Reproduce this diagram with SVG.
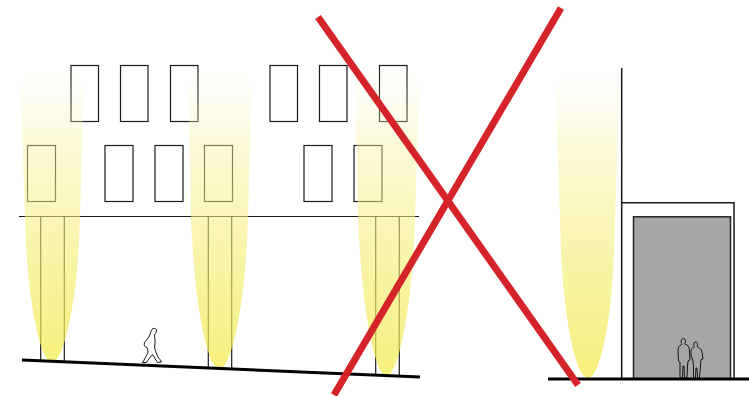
<svg xmlns="http://www.w3.org/2000/svg" width="749" height="396" viewBox="0 0 749 396">
  <defs>
    <linearGradient id="beamGrad" x1="0" y1="0" x2="0" y2="1">
      <stop offset="0" stop-color="#fffbe0" stop-opacity="0"/>
      <stop offset="0.25" stop-color="#f8f2a8" stop-opacity="0.45"/>
      <stop offset="0.6" stop-color="#f5ee78" stop-opacity="0.62"/>
      <stop offset="1" stop-color="#f3eb50" stop-opacity="0.75"/>
    </linearGradient>
  </defs>
  <style>
    .wall { fill: none; stroke: #1a1a1a; stroke-width: 1.2; }
    .ground { fill: none; stroke: #000; stroke-width: 3; stroke-linecap: butt; }
    .beam { fill: url(#beamGrad); stroke: none; }
    .cross { stroke: #d4242a; stroke-width: 7; stroke-linecap: butt; }
    .figure { fill: #fff; stroke: #111; stroke-width: 1; stroke-linejoin: round; }
    .figure-gray { fill: #a6a6a6; stroke: #111; stroke-width: 1; stroke-linejoin: round; }
  </style>

  <rect width="749" height="396" fill="#fff"/>

  <!-- Facade with windows and pillars -->
  <g id="facade">
    <rect class="wall" x="71" y="65.5" width="27.5" height="56"/>
    <rect class="wall" x="120.5" y="65.5" width="27.5" height="56"/>
    <rect class="wall" x="170.5" y="65.5" width="27.5" height="56"/>
    <rect class="wall" x="270" y="65.5" width="27.5" height="56"/>
    <rect class="wall" x="319.5" y="65.5" width="27.5" height="56"/>
    <rect class="wall" x="379.5" y="65.5" width="27.5" height="56"/>

    <rect class="wall" x="27.5" y="145.5" width="28" height="56"/>
    <rect class="wall" x="105" y="145.5" width="28" height="56"/>
    <rect class="wall" x="155" y="145.5" width="28" height="56"/>
    <rect class="wall" x="204.5" y="145.5" width="28" height="56"/>
    <rect class="wall" x="304" y="145.5" width="28" height="56"/>
    <rect class="wall" x="354" y="145.5" width="28" height="56"/>

    <line class="wall" x1="19" y1="216.5" x2="419" y2="216.5"/>

    <polyline class="wall" points="40.7,361 40.7,216.5 64.3,216.5 64.3,362"/>
    <polyline class="wall" points="208.3,368 208.3,216.5 231.7,216.5 231.7,369"/>
    <polyline class="wall" points="375.7,375 375.7,216.5 399.3,216.5 399.3,376"/>
  </g>

  <!-- Uplight beams -->
  <g id="beams">
    <path class="beam" d="M20,65 L84,65 L80,217 C78,300 64,362 52,362 C40,362 27,300 25,217 Z"/>
    <path class="beam" d="M188,65 L252,65 L248,217 C246,300 232,369 219.5,369 C207,369 194,300 191,217 Z"/>
    <path class="beam" d="M355,65 L420,65 L415,217 C413,300 399,376 386.7,376 C374,376 361,300 358,217 Z"/>
    <path class="beam" d="M555,68 L620,68 L614,250 C612,320 600,378 588,378 C576,378 564,320 561,250 Z"/>
  </g>

  <!-- Street level -->
  <g id="street">
    <line class="ground" x1="22" y1="360" x2="420" y2="377"/>
  </g>

  <!-- Walking pedestrian -->
  <g id="walker">
    <path class="figure" d="M153,328.5 C155,328 157,329 156.5,331 C156,333 154.5,334 154.5,336 C155,339 155.5,343 154.5,347 C155,350 156,353 158,357 C159.5,359 161,360.5 161.5,362 L157.5,362.5 C156,360 154,357 152.5,354.5 C150.5,357 148,360 146.5,362.5 L142.5,362.5 C144,360 146.5,356 148,352.5 C148,350.5 147.5,349 147,347.5 C145,347 143.5,345 144.5,342.5 C146,340 148,338.5 149.5,336 C150.5,333 151,329.5 153,328.5 Z"/>
  </g>

  <!-- Right building with recessed entrance -->
  <g id="entrance">
    <line class="wall" x1="621.7" y1="68" x2="621.7" y2="379" style="stroke-width:1.5"/>
    <polyline class="wall" points="621.7,202.8 734,202.8 734,379" style="stroke-width:1.5"/>
    <rect x="633.5" y="216.8" width="97" height="162" fill="#a6a6a6" stroke="#222" stroke-width="1.5"/>
    <line class="ground" x1="548" y1="379" x2="749" y2="379"/>
  </g>

  <!-- Two people in the doorway -->
  <g id="couple">
    <path class="figure-gray" d="M683.3,338.5 C685.5,338.5 685.8,341 685,343 C684.5,344 685,344.5 687,345 C689,346 689.5,349 689.5,352 L690,360 L688,361 L687.5,366 L687,377.5 L684.5,377.5 L684,366 L683,366 L682.5,377.5 L680,377.5 L680,362 L678.5,361 L678,351 C678,347.5 679,345.5 681.5,344.5 C682,344 681.5,343.5 681.3,342.5 C681,340 681.5,338.5 683.3,338.5 Z"/>
    <path class="figure-gray" d="M695.7,342 C697.5,342 698,344 697.3,346 C697,347 698,347.5 699.5,348 C701.5,349 702,352 702.5,355 L703,359 L701,359.5 L700.5,366 L699.5,377.5 L697.5,377.5 L697,368 L696,368 L695.5,377.5 L693.5,377.5 L693.5,366 L692.5,358 L691,357 L691,352 C691,349 692,348 693.8,347.5 C694.3,347 694,346.5 693.8,345.5 C693.7,343.5 694.3,342 695.7,342 Z"/>
  </g>

  <!-- Cross-out mark -->
  <g id="cross">
    <line class="cross" x1="318" y1="17" x2="578" y2="385"/>
    <line class="cross" x1="561" y1="8" x2="334" y2="395"/>
  </g>
</svg>
